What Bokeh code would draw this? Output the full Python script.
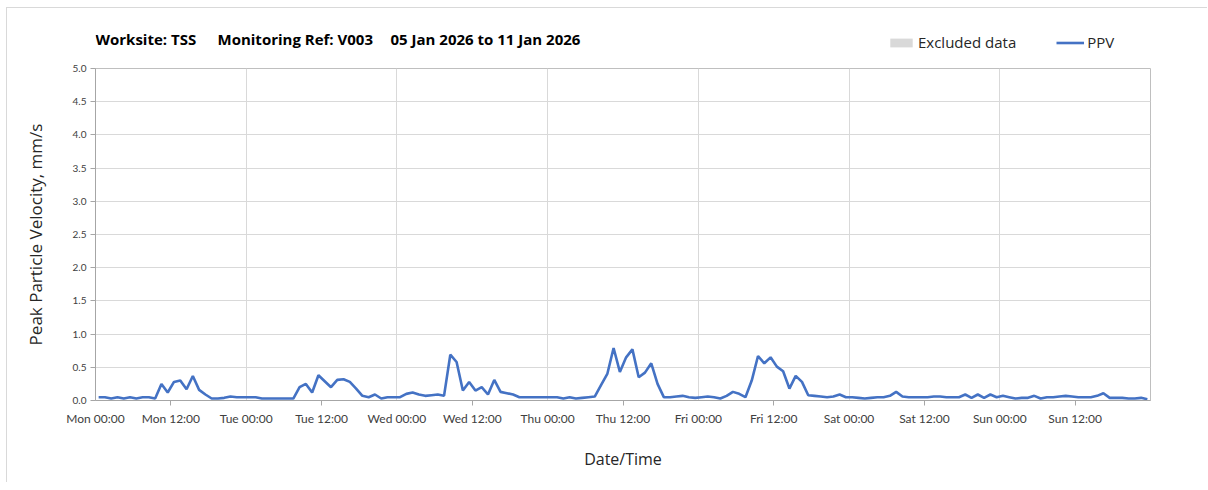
import pandas as pd
from bokeh.plotting import figure
from bokeh.layouts import column
from bokeh.models import (ColumnDataSource, FixedTicker, DatetimeTickFormatter,
                          Legend, LegendItem, Label, Range1d, NumeralTickFormatter)
from bokeh.embed import file_html
from bokeh.resources import INLINE

# ---------------- data (hourly PPV, mm/s) ----------------
mon = [0.05, 0.05, 0.03, 0.05, 0.03, 0.05, 0.03, 0.05, 0.05, 0.03, 0.25, 0.12,
       0.28, 0.30, 0.17, 0.37, 0.16, 0.09, 0.03, 0.03, 0.04, 0.06, 0.05, 0.05]
tue = [0.05, 0.05, 0.03, 0.03, 0.03, 0.03, 0.03, 0.03, 0.20, 0.25, 0.12, 0.38,
       0.29, 0.20, 0.31, 0.32, 0.28, 0.18, 0.07, 0.05, 0.09, 0.03, 0.05, 0.05]
wed = [0.05, 0.10, 0.12, 0.09, 0.07, 0.08, 0.09, 0.07, 0.69, 0.58, 0.15, 0.28,
       0.15, 0.20, 0.09, 0.31, 0.13, 0.11, 0.09, 0.05, 0.05, 0.05, 0.05, 0.05]
thu = [0.05, 0.05, 0.03, 0.05, 0.03, 0.04, 0.05, 0.06, 0.23, 0.40, 0.79, 0.43,
       0.65, 0.77, 0.35, 0.42, 0.56, 0.25, 0.05, 0.05, 0.06, 0.07, 0.05, 0.04]
fri = [0.05, 0.06, 0.05, 0.03, 0.07, 0.13, 0.10, 0.05, 0.30, 0.67, 0.56, 0.65,
       0.51, 0.44, 0.18, 0.37, 0.28, 0.08, 0.07, 0.06, 0.05, 0.06, 0.09, 0.05]
sat = [0.05, 0.04, 0.03, 0.04, 0.05, 0.05, 0.07, 0.13, 0.06, 0.05, 0.05, 0.05,
       0.05, 0.06, 0.06, 0.05, 0.05, 0.05, 0.09, 0.04, 0.09, 0.04, 0.09, 0.05]
sun = [0.07, 0.05, 0.03, 0.04, 0.04, 0.07, 0.03, 0.05, 0.05, 0.06, 0.07, 0.06,
       0.05, 0.05, 0.05, 0.07, 0.11, 0.04, 0.04, 0.04, 0.03, 0.03, 0.04, 0.02]

start_date = "2026-01-05 00:00"
end_date = "2026-01-12 00:00"
first_sample = "2026-01-05 00:30"

title_parts = ["Worksite: TSS", "Monitoring Ref: V003", "05 Jan 2026 to 11 Jan 2026"]
y_ticks = [0.0, 0.5, 1.0, 1.5, 2.0, 2.5, 3.0, 3.5, 4.0, 4.5, 5.0]
series_name = "PPV"
excluded_name = "Excluded data"

ppv = mon + tue + wed + thu + fri + sat + sun
times = pd.date_range(first_sample, periods=len(ppv), freq="h")
src = ColumnDataSource(dict(t=times, ppv=ppv))

t0 = pd.Timestamp(start_date)
t1 = pd.Timestamp(end_date)
ms = lambda ts: ts.value / 1e6
major = [ms(t0 + pd.Timedelta(hours=12 * i)) for i in range(14)]
half_days = [ms(t0 + pd.Timedelta(hours=12 + 24 * i)) for i in range(7)]
days = [ms(t0 + pd.Timedelta(hours=24 * i)) for i in range(8)]

FONT = "Lato"
FONT2 = "Open Sans"
LINE_COLOR = "#4472C4"
EXCL_COLOR = "#d9d9d9"
W = 1200
NAN = float("nan")

# ---------------- header (title + legend) ----------------
h = figure(width=W, height=52, output_backend="svg", toolbar_location=None,
           x_range=Range1d(0, 1), y_range=Range1d(0, 1),
           min_border_left=88, min_border_right=57, min_border_top=0,
           min_border_bottom=0)
h.axis.visible = False
h.grid.visible = False
h.outline_line_color = None
h.border_fill_color = "white"

# legend-only renderers (NaN data: nothing drawn in the header itself)
hx = h.quad(left=[NAN], right=[NAN], top=[NAN], bottom=[NAN],
            fill_color=EXCL_COLOR, line_color=None)
hl = h.line(x=[NAN, NAN], y=[NAN, NAN], line_color=LINE_COLOR, line_width=2.6)

legend = Legend(items=[LegendItem(label=excluded_name, renderers=[hx]),
                       LegendItem(label=series_name, renderers=[hl])],
                orientation="horizontal", location=(792, 8),
                glyph_width=28, glyph_height=11, label_standoff=3,
                spacing=40, padding=0, margin=0,
                background_fill_alpha=0, border_line_color=None,
                label_text_font=FONT2, label_text_font_size="15px",
                label_text_color="#262626")
h.add_layout(legend, "center")

title_x = [0, 122, 295]
for tx, txt in zip(title_x, title_parts):
    h.add_layout(Label(x=tx, y=22, x_units="screen", y_units="screen",
                       text=txt, text_font=FONT2, text_font_style="bold",
                       text_font_size="15px", text_color="black",
                       text_baseline="middle"))

# ---------------- main chart ----------------
p = figure(width=W, height=422, x_axis_type="datetime",
           output_backend="svg", toolbar_location=None,
           x_range=Range1d(t0, t1), y_range=Range1d(0, 5),
           min_border_left=88, min_border_right=57,
           min_border_top=8, min_border_bottom=82)
p.background_fill_color = "white"
p.border_fill_color = "white"
p.outline_line_color = "#bfbfbf"
p.outline_line_width = 1

p.xgrid.ticker = FixedTicker(ticks=days)
p.xgrid.grid_line_color = "#d9d9d9"
p.ygrid.grid_line_color = "#d9d9d9"

xa = p.xaxis[0]
xa.ticker = FixedTicker(ticks=major, minor_ticks=half_days)
xa.formatter = DatetimeTickFormatter(hours="%a %H:%M", days="%a %H:%M",
                                     hourmin="%a %H:%M", minutes="%a %H:%M",
                                     months="%a %H:%M")
xa.major_tick_out = 0
xa.major_tick_in = 0
xa.minor_tick_out = 5
xa.minor_tick_in = 0
xa.axis_line_color = "#a6a6a6"
xa.major_tick_line_color = "#a6a6a6"
xa.minor_tick_line_color = "#a6a6a6"
xa.major_label_text_font = FONT
xa.major_label_text_font_size = "12px"
xa.major_label_text_color = "#404040"
xa.major_label_standoff = 5
xa.axis_label = "Date/Time"
xa.axis_label_text_font = FONT2
xa.axis_label_text_font_style = "normal"
xa.axis_label_text_font_size = "16px"
xa.axis_label_text_color = "#262626"
xa.axis_label_standoff = 19

ya = p.yaxis[0]
ya.ticker = FixedTicker(ticks=y_ticks)
ya.formatter = NumeralTickFormatter(format="0.0")
ya.major_tick_out = 5
ya.major_tick_in = 0
ya.minor_tick_out = 0
ya.minor_tick_in = 0
ya.axis_line_color = "#a6a6a6"
ya.major_tick_line_color = "#a6a6a6"
ya.major_label_text_font = FONT
ya.major_label_text_font_size = "10px"
ya.major_label_text_color = "#404040"
ya.major_label_standoff = 4
ya.axis_label = "Peak Particle Velocity, mm/s"
ya.axis_label_text_font = FONT2
ya.axis_label_text_font_style = "normal"
ya.axis_label_text_font_size = "17px"
ya.axis_label_text_color = "#262626"
ya.axis_label_standoff = 23

p.line("t", "ppv", source=src, line_color=LINE_COLOR, line_width=2.6)

layout = column(h, p, spacing=0, margin=(7, 0, 0, 6),
                styles={"border-top": "1px solid #d9d9d9",
                        "border-left": "1px solid #d9d9d9"})

open("out.html", "w").write(file_html(layout, INLINE))
